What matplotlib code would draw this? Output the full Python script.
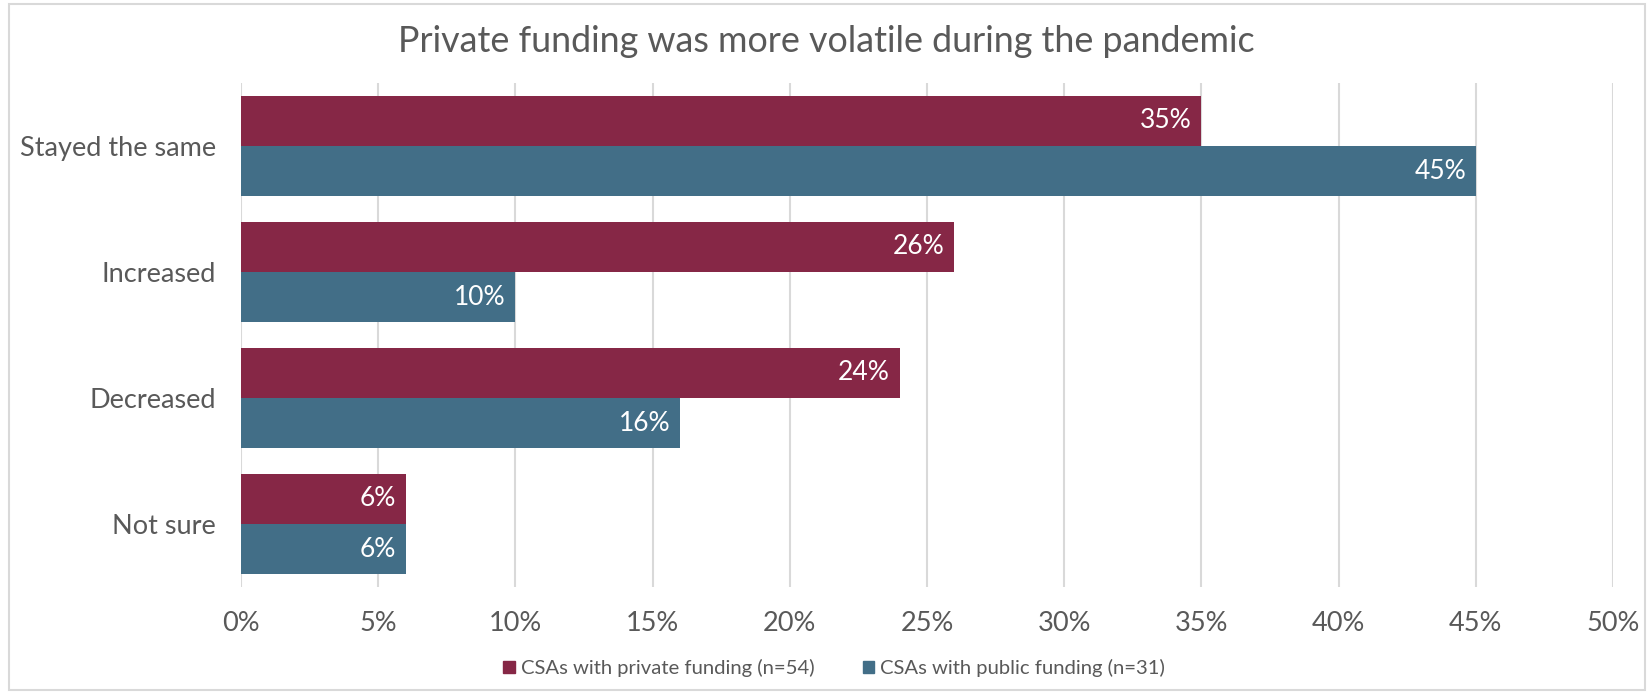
import numpy as np
import matplotlib
matplotlib.use("Agg")
import matplotlib.pyplot as plt
from matplotlib.patches import Patch, Rectangle

plt.rcParams["font.family"] = ["Lato", "DejaVu Sans"]

categories = ["Stayed the same", "Increased", "Decreased", "Not sure"]
private_vals = [35, 26, 24, 6]
public_vals = [45, 10, 16, 6]
series_names = ["CSAs with private funding (n=54)", "CSAs with public funding (n=31)"]
ticks = [0, 5, 10, 15, 20, 25, 30, 35, 40, 45, 50]

PRIVATE = "#862746"
PUBLIC = "#426e87"
TEXT = "#595959"
GRID = "#d9d9d9"

fig = plt.figure(figsize=(16.52, 6.94), dpi=100)
ax = fig.add_axes([241 / 1652, 1 - 587 / 694, (1613 - 241) / 1652, (587 - 83) / 694])

# light frame round the whole chart, like the Excel chart area
fig.patches.append(Rectangle((9 / 1652, 4 / 694), 1 - 16 / 1652, 1 - 8 / 694,
                             transform=fig.transFigure, fill=False,
                             edgecolor="#d9d9d9", linewidth=1.5))

y = np.arange(len(categories))
h = 0.397
b1 = ax.barh(y - h / 2, private_vals, height=h, color=PRIVATE, zorder=3)
b2 = ax.barh(y + h / 2, public_vals, height=h, color=PUBLIC, zorder=3)

for bars, vals in ((b1, private_vals), (b2, public_vals)):
    for bar, v in zip(bars, vals):
        ax.annotate(f"{v}%", (bar.get_width(), bar.get_y() + bar.get_height() / 2),
                    xytext=(-7, 0), textcoords="offset points",
                    ha="right", va="center", color="white", fontsize=19, zorder=4)

ax.set_xlim(0, 50)
ax.set_ylim(len(categories) - 0.5, -0.5)
ax.set_xticks(ticks)
ax.set_xticklabels([f"{t}%" for t in ticks], fontsize=19.5, color=TEXT)
ax.set_yticks(y)
ax.set_yticklabels(categories, fontsize=19.5, color=TEXT)
ax.tick_params(length=0)
ax.tick_params(axis="x", pad=17)
ax.tick_params(axis="y", pad=18)
ax.xaxis.grid(True, color=GRID, linewidth=1.5, zorder=0)
for s in ax.spines.values():
    s.set_visible(False)

fig.text(0.5, 1 - 42 / 694, "Private funding was more volatile during the pandemic",
         ha="center", va="center", fontsize=25.8, color=TEXT)

handles = [Patch(color=PRIVATE), Patch(color=PUBLIC)]
fig.legend(handles, series_names, loc="center", bbox_to_anchor=(0.505, 1 - 668 / 694),
           ncol=2, frameon=False, fontsize=14.6, labelcolor=TEXT,
           handlelength=0.55, handleheight=0.55, handletextpad=0.3, columnspacing=2.4)

fig.savefig("out.png", dpi=100)
